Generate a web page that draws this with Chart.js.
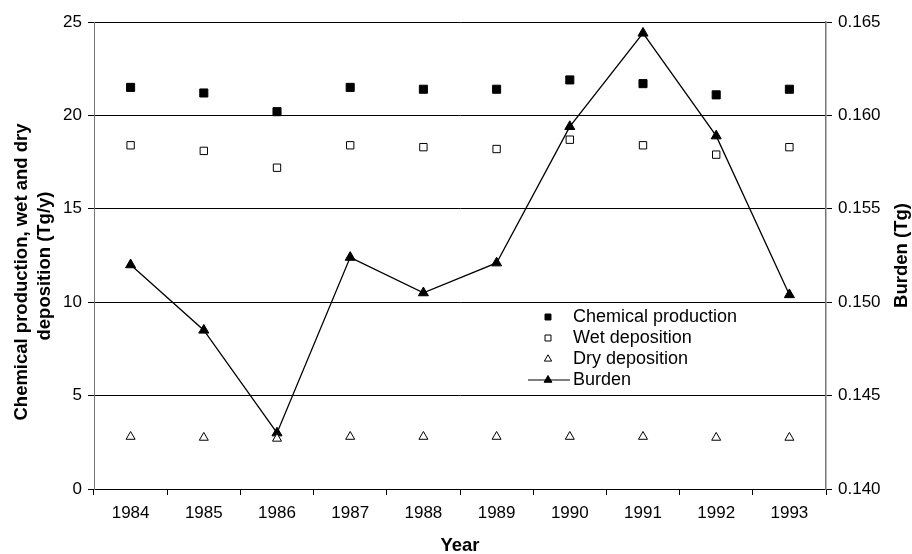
<!DOCTYPE html>
<html>
<head>
<meta charset="utf-8">
<script src="https://cdn.jsdelivr.net/npm/chart.js@4"></script>
<style>
  html, body { margin: 0; padding: 0; background: #fff; }
  #wrap { width: 912px; height: 554px; }
</style>
</head>
<body>
<div id="wrap"><canvas id="chart"></canvas></div>
<script>
const years = ['1984', '1985', '1986', '1987', '1988', '1989', '1990', '1991', '1992', '1993'];
const chemicalProduction = [21.5, 21.2, 20.2, 21.5, 21.4, 21.4, 21.9, 21.7, 21.1, 21.4];
const wetDeposition = [18.4, 18.1, 17.2, 18.4, 18.3, 18.2, 18.7, 18.4, 17.9, 18.3];
const dryDeposition = [2.8, 2.75, 2.7, 2.8, 2.8, 2.8, 2.8, 2.8, 2.75, 2.75];
const burden = [0.1520, 0.1485, 0.1430, 0.1524, 0.1505, 0.1521, 0.1594, 0.1644, 0.1589, 0.1504];

const FONT = '"Liberation Sans", Arial, sans-serif';

// draws axis titles and the legend inside the plot
const extras = {
  id: 'extras',
  afterDraw(chart) {
    const ctx = chart.ctx;
    const area = chart.chartArea;
    ctx.save();
    ctx.fillStyle = '#000';
    ctx.font = 'bold 18.5px ' + FONT;
    ctx.textAlign = 'center';
    ctx.textBaseline = 'middle';
    ctx.fillText('Year', (area.left + area.right) / 2, 546);

    ctx.save();
    ctx.translate(22, 272);
    ctx.rotate(-Math.PI / 2);
    ctx.fillText('Chemical production, wet and dry', 0, 0);
    ctx.fillText('deposition (Tg/y)', 6, 23);
    ctx.restore();

    ctx.save();
    ctx.translate(902, (area.top + area.bottom) / 2);
    ctx.rotate(-Math.PI / 2);
    ctx.fillText('Burden (Tg)', 0, 0);
    ctx.restore();

    // legend
    const items = [
      { text: 'Chemical production', style: 'rect', r: 4.2, fill: '#000', line: false },
      { text: 'Wet deposition', style: 'rect', r: 4.2, fill: '#fff', line: false },
      { text: 'Dry deposition', style: 'triangle', r: 4.2, fill: '#fff', line: false },
      { text: 'Burden', style: 'triangle', r: 4.5, fill: '#000', line: true }
    ];
    const mx = 548, tx = 573;
    let y = 317;
    ctx.font = '18px ' + FONT;
    ctx.textAlign = 'left';
    items.forEach(it => {
      if (it.line) {
        ctx.strokeStyle = '#000';
        ctx.lineWidth = 1.2;
        ctx.beginPath();
        ctx.moveTo(528, y);
        ctx.lineTo(570, y);
        ctx.stroke();
      }
      ctx.fillStyle = it.fill;
      ctx.strokeStyle = '#000';
      ctx.lineWidth = 1;
      Chart.helpers.drawPoint(ctx, { pointStyle: it.style, radius: it.r, borderWidth: 1 }, mx, y);
      ctx.fillStyle = '#000';
      ctx.fillText(it.text, tx, y);
      y += 21;
    });
    ctx.restore();
  }
};

new Chart(document.getElementById('chart'), {
  type: 'line',
  data: {
    labels: years,
    datasets: [
      {
        label: 'Chemical production',
        data: chemicalProduction,
        yAxisID: 'y',
        showLine: false,
        pointStyle: 'rect',
        pointRadius: 5.7,
        pointBackgroundColor: '#000',
        pointBorderColor: '#000',
        pointBorderWidth: 1
      },
      {
        label: 'Wet deposition',
        data: wetDeposition,
        yAxisID: 'y',
        showLine: false,
        pointStyle: 'rect',
        pointRadius: 5.2,
        pointBackgroundColor: '#fff',
        pointBorderColor: '#000',
        pointBorderWidth: 1
      },
      {
        label: 'Dry deposition',
        data: dryDeposition,
        yAxisID: 'y',
        showLine: false,
        pointStyle: 'triangle',
        pointRadius: 5.2,
        pointBackgroundColor: '#fff',
        pointBorderColor: '#000',
        pointBorderWidth: 1
      },
      {
        label: 'Burden',
        data: burden,
        yAxisID: 'y1',
        borderColor: '#000',
        borderWidth: 1.3,
        tension: 0,
        pointStyle: 'triangle',
        pointRadius: 5.8,
        pointBackgroundColor: '#000',
        pointBorderColor: '#000',
        pointBorderWidth: 1
      }
    ]
  },
  options: {
    responsive: true,
    maintainAspectRatio: false,
    animation: false,
    layout: { padding: { top: 22, left: 0, right: 0, bottom: 0 } },
    plugins: {
      legend: { display: false },
      tooltip: { enabled: false }
    },
    scales: {
      x: {
        offset: true,
        grid: { offset: true, drawOnChartArea: false, color: '#000', tickLength: 6 },
        border: { color: '#000' },
        ticks: { color: '#000', font: { family: FONT, size: 17 }, padding: 8, maxRotation: 0 },
        afterFit: s => { s.height = 554 - 489; }
      },
      y: {
        position: 'left',
        min: 0, max: 25,
        ticks: { stepSize: 5, color: '#000', font: { family: FONT, size: 17 }, padding: 6 },
        grid: { color: '#000', lineWidth: 1, tickLength: 6 },
        border: { color: '#777' },
        afterFit: s => { s.width = 94; }
      },
      y1: {
        position: 'right',
        min: 0.140, max: 0.165,
        ticks: {
          stepSize: 0.005, color: '#000', font: { family: FONT, size: 17 }, padding: 6,
          callback: v => v.toFixed(3)
        },
        grid: { drawOnChartArea: false, color: '#000', tickLength: 6 },
        border: { color: '#777', width: 1.5 },
        afterFit: s => { s.width = 912 - 826; }
      }
    }
  },
  plugins: [extras]
});
</script>
</body>
</html>
